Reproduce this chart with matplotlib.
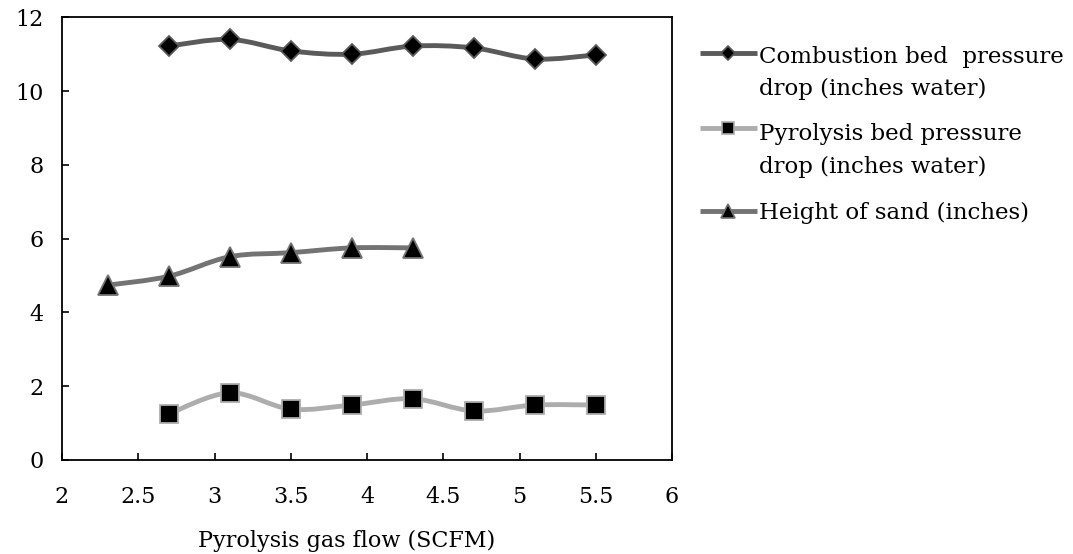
import numpy as np
import matplotlib.pyplot as plt
from matplotlib.path import Path
from matplotlib.patches import PathPatch
from matplotlib.lines import Line2D

# measured series
flow_main = [2.7, 3.1, 3.5, 3.9, 4.3, 4.7, 5.1, 5.5]
combustion_dp = [11.22, 11.40, 11.09, 11.00, 11.22, 11.17, 10.87, 10.98]
pyrolysis_dp = [1.25, 1.82, 1.38, 1.49, 1.66, 1.33, 1.49, 1.49]
flow_sand = [2.3, 2.7, 3.1, 3.5, 3.9, 4.3]
sand_height = [4.74, 4.98, 5.51, 5.62, 5.75, 5.75]

x_ticks = [2, 2.5, 3, 3.5, 4, 4.5, 5, 5.5, 6]
x_tick_labels = ["2", "2.5", "3", "3.5", "4", "4.5", "5", "5.5", "6"]
y_ticks = [0, 2, 4, 6, 8, 10, 12]

series = [
    (flow_main, combustion_dp, "#5a5a5a", "D", 10, 7,
     ["Combustion bed  pressure", "drop (inches water)"]),
    (flow_main, pyrolysis_dp, "#adadad", "s", 13.5, 9,
     ["Pyrolysis bed pressure", "drop (inches water)"]),
    (flow_sand, sand_height, "#737373", "^", 14, 10,
     ["Height of sand (inches)"]),
]

plt.rcParams['font.family'] = ['DejaVu Serif']
plt.rcParams['font.size'] = 16


def smooth_path(xs, ys):
    # excel-style smoothed line: cubic bezier through every point
    p = np.column_stack([xs, ys]).astype(float)
    ext = np.vstack([p[0], p, p[-1]])
    verts = [p[0]]
    codes = [Path.MOVETO]
    for i in range(len(p) - 1):
        p0, p1, p2, p3 = ext[i], ext[i + 1], ext[i + 2], ext[i + 3]
        verts += [p1 + (p2 - p0) / 6, p2 - (p3 - p1) / 6, p2]
        codes += [Path.CURVE4] * 3
    return Path(verts, codes)


fig = plt.figure(figsize=(10.73, 5.54), dpi=100)
ax = fig.add_axes([62 / 1073, 1 - 460 / 554, 610 / 1073, (460 - 17.3) / 554])

for xs, ys, col, mk, ms, lms, label in series:
    ax.add_patch(PathPatch(smooth_path(xs, ys), fill=False, edgecolor=col,
                           lw=3.5, capstyle='round', joinstyle='round'))
    ax.plot(xs, ys, ls='none', marker=mk, ms=ms, mfc='black', mec=col,
            mew=1.3, zorder=3)

ax.set_xlim(2, 6)
ax.set_ylim(0, 12)
ax.set_xticks(x_ticks)
ax.set_xticklabels(x_tick_labels)
ax.set_yticks(y_ticks)
ax.tick_params(direction='in', length=5, width=1.2, colors='black')
ax.tick_params(axis='x', pad=19)
ax.tick_params(axis='y', pad=13)
for s in ax.spines.values():
    s.set_linewidth(1.3)

ax.set_xlabel("Pyrolysis gas flow (SCFM)", va='baseline')
ax.xaxis.set_label_coords((347 - 62) / 610, -(547 - 460) / 442.7)

# legend drawn by hand so the key sits on the first text line
key_y = [53, 128, 211]
text_base = [[63, 95], [140, 173], [219]]
for (xs, ys, col, mk, ms, lms, label), ky, bases in zip(series, key_y, text_base):
    yf = 1 - ky / 554
    fig.add_artist(Line2D([700 / 1073, 757 / 1073], [yf, yf], color=col,
                          lw=3.5, solid_capstyle='butt',
                          transform=fig.transFigure))
    fig.add_artist(Line2D([728 / 1073], [yf], ls='none', marker=mk,
                          ms=lms, mfc='black', mec=col, mew=1.2,
                          transform=fig.transFigure))
    for line, b in zip(label, bases):
        fig.text(759 / 1073, 1 - b / 554, line, va='baseline', ha='left',
                 fontsize=16.5)

fig.savefig("out.png", dpi=100)
